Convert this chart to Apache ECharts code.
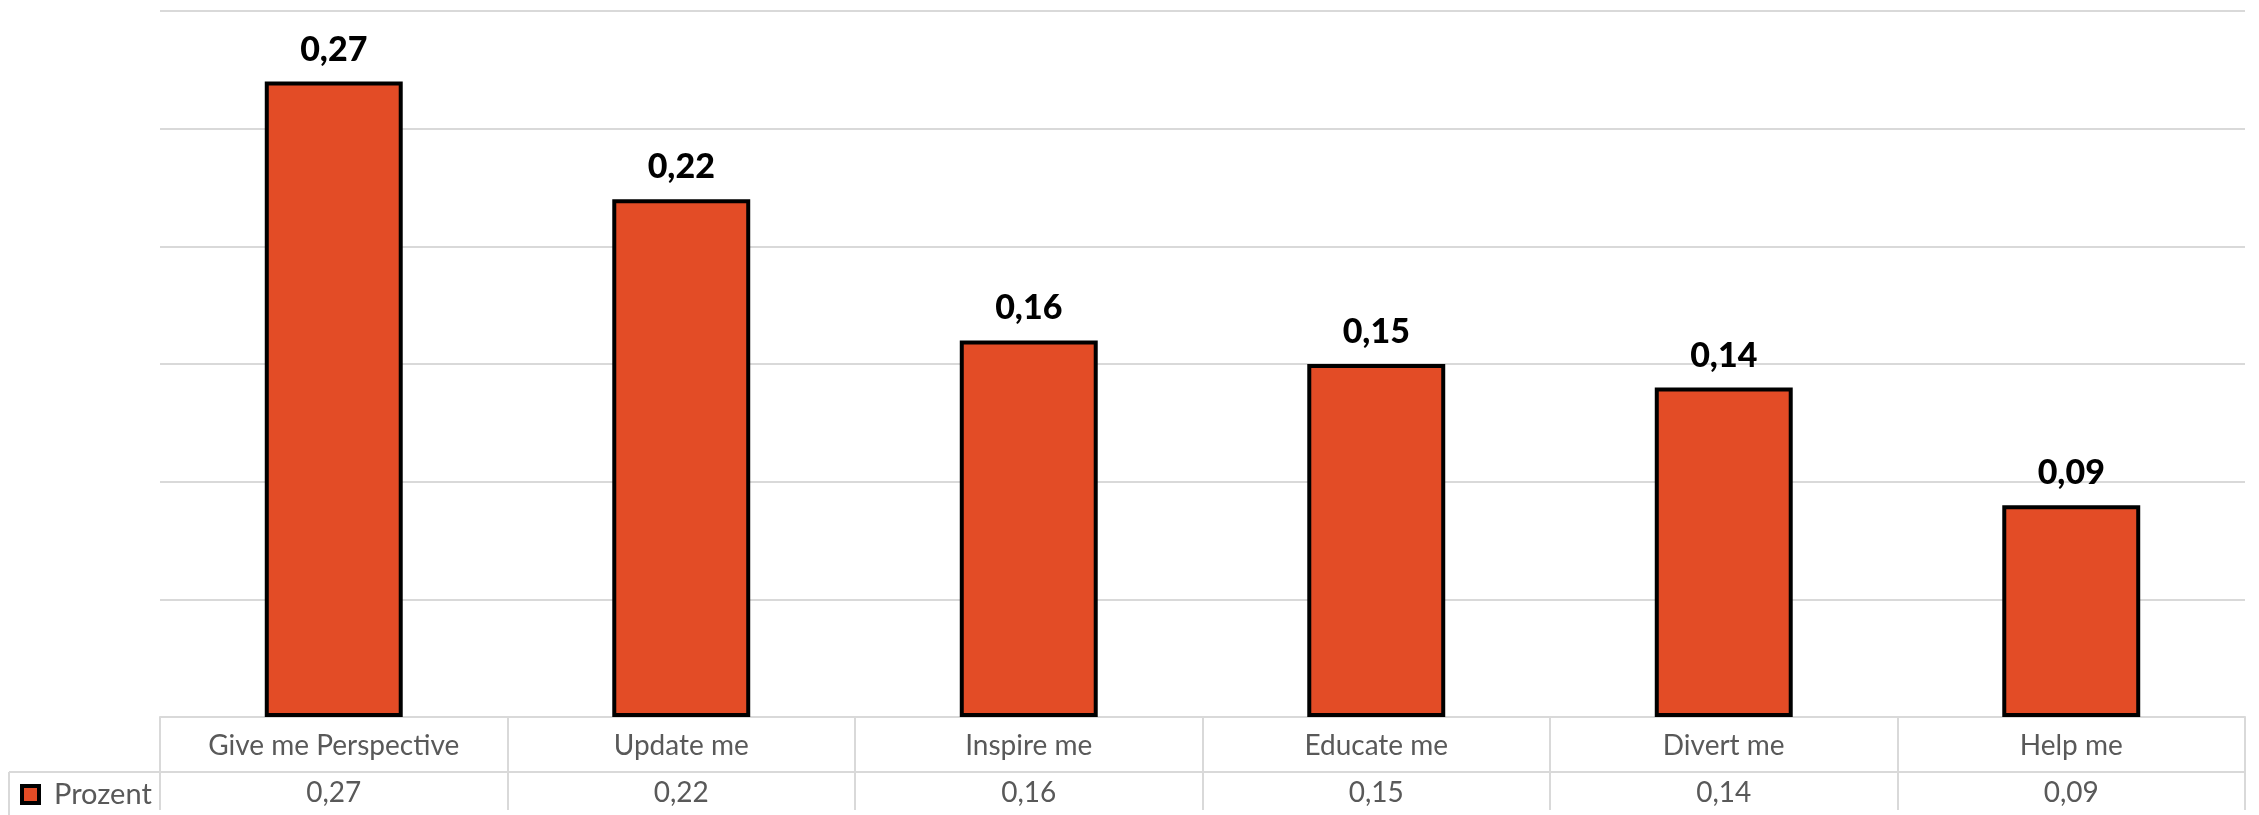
<!DOCTYPE html>
<html><head><meta charset="utf-8">
<script src="https://cdn.jsdelivr.net/npm/echarts@6/dist/echarts.min.js"></script>
<style>html,body{margin:0;padding:0;background:#fff}#c{width:2259px;height:815px}</style>
</head><body><div id="c"></div>
<script>
const categories = ['Give me Perspective', 'Update me', 'Inspire me', 'Educate me', 'Divert me', 'Help me'];
const prozent = [0.27, 0.22, 0.16, 0.15, 0.14, 0.09];
const seriesName = 'Prozent';
const yTicks = [0, 0.05, 0.10, 0.15, 0.20, 0.25, 0.30];
const fmt = v => v.toFixed(2).replace('.', ',');

const W = 2259, H = 815;
const GL = 160, GR = 2245, GT = 11, GB = 722, ROW = 772, LX = 9;
const FONT = 'Lato';
const GRID = '#d9d9d9';

const chart = echarts.init(document.getElementById('c'));
chart.setOption({
  animation: false,
  grid: { left: GL, right: W - GR, top: GT, bottom: H - GB },
  legend: {
    show: true, left: 20, top: 780, padding: 0, icon: 'rect', itemWidth: 17, itemHeight: 17, itemGap: 0,
    itemStyle: { borderWidth: 4, borderColor: '#000' },
    textStyle: { fontFamily: FONT, fontSize: 29, color: '#595959', padding: [3, 0, 0, 10] }
  },
  xAxis: {
    type: 'category', data: categories,
    axisLine: { lineStyle: { color: GRID, width: 2 } },
    axisTick: { show: true, length: H - GB, lineStyle: { color: GRID, width: 2 } },
    axisLabel: {
      interval: 0, margin: 4,
      formatter: (v, i) => '{c|' + v + '}\n{v|' + fmt(prozent[i]) + '}',
      rich: {
        c: { fontFamily: FONT, fontSize: 28, color: '#595959', lineHeight: 50, height: 50 },
        v: { fontFamily: FONT, fontSize: 28, color: '#595959', lineHeight: 44, height: 44 }
      }
    }
  },
  yAxis: {
    type: 'value', min: yTicks[0], max: yTicks[yTicks.length - 1], interval: 0.05,
    axisLabel: { show: false }, axisLine: { show: false }, axisTick: { show: false },
    splitLine: { lineStyle: { color: GRID, width: 2 } }
  },
  series: [{
    type: 'bar', name: seriesName, data: prozent, barWidth: '39.7%',
    itemStyle: { color: '#E34C26', borderColor: '#000', borderWidth: 4 },
    label: {
      show: true, position: 'top', distance: 15, formatter: p => fmt(p.value),
      fontFamily: FONT, fontWeight: 900, fontSize: 34, color: '#000'
    }
  }],
  graphic: [
    { type: 'line', shape: { x1: LX, y1: ROW, x2: GR, y2: ROW }, style: { stroke: GRID, lineWidth: 2 } },
    { type: 'line', shape: { x1: LX, y1: ROW, x2: LX, y2: H }, style: { stroke: GRID, lineWidth: 2 } }
  ]
});
</script>
</body></html>
